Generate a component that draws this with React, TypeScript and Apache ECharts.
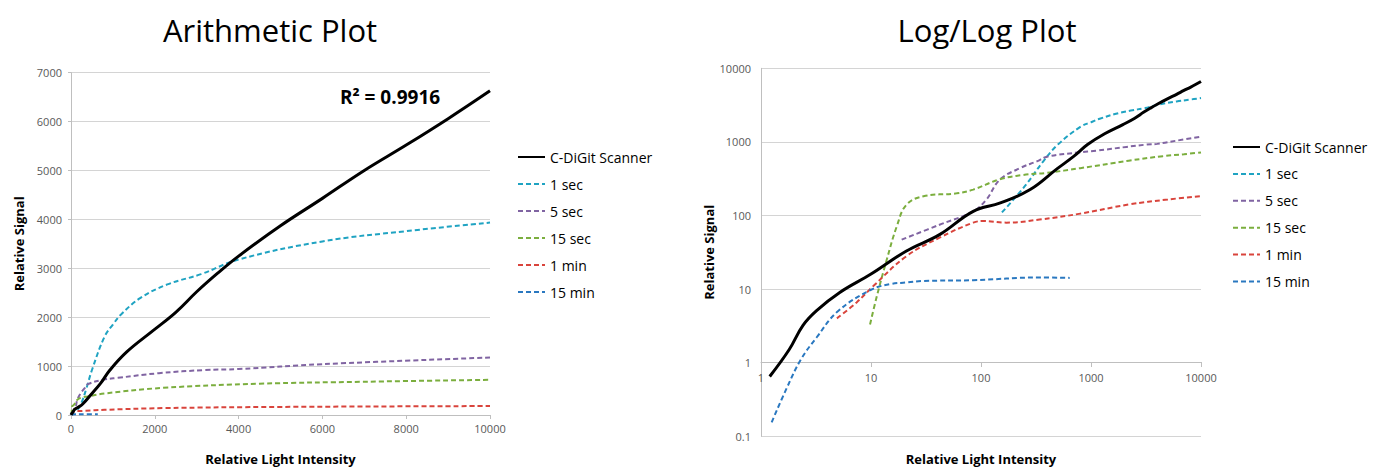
import { useEffect, useRef } from 'react';
import * as echarts from 'echarts';

const seriesNames = ['C-DiGit Scanner', '1 sec', '5 sec', '15 sec', '1 min', '15 min'];
const seriesColors = ['#000000', '#1FA3C2', '#8064A2', '#7BAE3E', '#D9443C', '#2A78C0'];

const scannerData = [
  [1.2, 0.65], [1.8, 1.5], [2.4, 3.2], [3.2, 5.1], [5.2, 9], [10, 16], [21, 33], [42, 55],
  [85, 114], [150, 148], [280, 225], [490, 430], [700, 640], [930, 920], [1330, 1290],
  [1950, 1720], [2500, 2100], [3000, 2520], [3500, 2900], [4000, 3250], [5000, 3870],
  [6000, 4430], [7000, 5000], [8000, 5520], [9000, 6060], [10000, 6630],
];
const sec1Data = [
  [155, 110], [250, 250], [370, 550], [500, 920], [800, 1600], [1000, 1850], [1200, 2060],
  [1650, 2390], [2300, 2670], [3100, 2880], [4000, 3180], [6000, 3550], [8000, 3760], [10000, 3935],
];
const sec5Data = [
  [19, 47], [42, 75], [85, 114], [112, 165], [148, 306], [226, 440], [322, 545], [400, 630],
  [770, 720], [1120, 760], [2100, 855], [3200, 920], [4000, 940], [6000, 1040], [10000, 1175],
];
const sec15Data = [
  [9.8, 3.3], [11.3, 8], [13.9, 25], [17.2, 72], [21, 140], [30, 183], [60, 200], [85, 225],
  [148, 310], [240, 355], [400, 380], [800, 440], [2200, 555], [4500, 640], [7000, 680], [10000, 720],
];
const min1Data = [
  [4.9, 4], [7.4, 6.6], [10.5, 11], [21, 28], [42, 50], [85, 80], [105, 84], [170, 80],
  [340, 88], [800, 106], [2200, 141], [5000, 165], [10000, 183],
];
const min15Data = [
  [1.25, 0.155], [1.7, 0.44], [2.3, 1.1], [3.2, 2.2], [5, 5], [10, 9.8], [15, 11.7],
  [21, 12.3], [30, 12.9], [85, 13.2], [340, 14.4], [640, 14.2],
];
const allData = [scannerData, sec1Data, sec5Data, sec15Data, min1Data, min15Data];

const titles = ['Arithmetic Plot', 'Log/Log Plot'];
const axisNameX = 'Relative Light Intensity';
const axisNameY = 'Relative Signal';
const rSquaredText = 'R² = 0.9916';

const FONT = 'Open Sans';

export default function App() {
  const ref = useRef<HTMLDivElement>(null);
  useEffect(() => {
    document.body.style.margin = '0';
    const chart = echarts.init(ref.current!, null, { renderer: 'svg' });

    const fmt = (v: number) => String(v);
    const labelStyle = { color: '#595959', fontSize: 11, fontFamily: FONT, formatter: fmt };
    const nameStyle = { color: '#000', fontSize: 13, fontWeight: 'bold' as const, fontFamily: FONT };
    const axisLine = { show: true, lineStyle: { color: '#bfbfbf', width: 1 } };
    const splitLine = { show: true, lineStyle: { color: '#d4d4d4', width: 1 } };

    const series: any[] = [];
    [0, 1].forEach((g) => {
      allData.forEach((d, i) => {
        series.push({
          type: 'line',
          name: seriesNames[i],
          xAxisIndex: g,
          yAxisIndex: g,
          data: d,
          smooth: 0.4,
          showSymbol: false,
          symbol: 'none',
          color: seriesColors[i],
          lineStyle: i === 0
            ? { color: seriesColors[i], width: 3 }
            : { color: seriesColors[i], width: 2, type: [5, 3] },
          z: i === 0 ? 3 : 2,
        });
      });
    });

    const legendBase = {
      orient: 'vertical' as const,
      data: seriesNames,
      itemWidth: 27,
      itemHeight: 14,
      itemGap: 13,
      textStyle: { fontSize: 14, fontFamily: FONT, color: '#000', lineHeight: 14 },
      selectedMode: false,
      itemStyle: { opacity: 0, color: 'transparent', borderWidth: 0 },
    };

    chart.setOption({
      animation: false,
      textStyle: { fontFamily: FONT },
      grid: [
        { left: 71, top: 72.7, width: 419, height: 346.3 },
        { left: 761, top: 68.3, width: 440, height: 370 },
      ],
      legend: [
        { ...legendBase, left: 512, top: 145 },
        { ...legendBase, left: 1227, top: 135, itemGap: 12.9 },
      ],
      xAxis: [
        {
          type: 'value', gridIndex: 0, min: 0, max: 10000, interval: 2000,
          axisLine, axisTick: { show: true, length: 4, lineStyle: { color: '#bfbfbf' } },
          splitLine: { show: false }, axisLabel: { ...labelStyle, margin: 8 },
          name: axisNameX, nameLocation: 'middle', nameGap: 37, nameTextStyle: nameStyle,
        },
        {
          type: 'log', gridIndex: 1, min: 1, max: 10000, logBase: 10,
          offset: -74.3,
          axisLine, axisTick: { show: true, length: 5, lineStyle: { color: '#bfbfbf' } },
          splitLine: { show: false },
          axisLabel: { ...labelStyle, margin: 10, showMinLabel: true, showMaxLabel: true },
          name: axisNameX, nameLocation: 'middle', nameGap: 90, nameTextStyle: nameStyle,
        },
      ],
      yAxis: [
        {
          type: 'value', gridIndex: 0, min: 0, max: 7000, interval: 1000,
          axisLine, axisTick: { show: true, length: 3, lineStyle: { color: '#bfbfbf' } },
          splitLine, axisLabel: { ...labelStyle, margin: 9 },
          name: axisNameY, nameLocation: 'middle', nameGap: 46, nameTextStyle: nameStyle,
        },
        {
          type: 'log', gridIndex: 1, min: 0.1, max: 10000, logBase: 10,
          axisLine, axisTick: { show: false },
          splitLine, axisLabel: { ...labelStyle, margin: 10 },
          name: axisNameY, nameLocation: 'middle', nameGap: 42, nameTextStyle: nameStyle,
        },
      ],
      graphic: [
        {
          type: 'text', x: 270, y: 30,
          style: { text: titles[0], font: `31px "${FONT}"`, fill: '#000', textAlign: 'center', textVerticalAlign: 'middle' },
        },
        {
          type: 'text', x: 987, y: 30,
          style: { text: titles[1], font: `31px "${FONT}"`, fill: '#000', textAlign: 'center', textVerticalAlign: 'middle' },
        },
        {
          type: 'text', x: 390, y: 97,
          style: { text: rSquaredText, font: `bold 19px "${FONT}"`, fill: '#000', textAlign: 'center', textVerticalAlign: 'middle' },
        },
      ],
      series,
    });
    return () => chart.dispose();
  }, []);
  return <div ref={ref} style={{ width: 1378, height: 470 }} />;
}
